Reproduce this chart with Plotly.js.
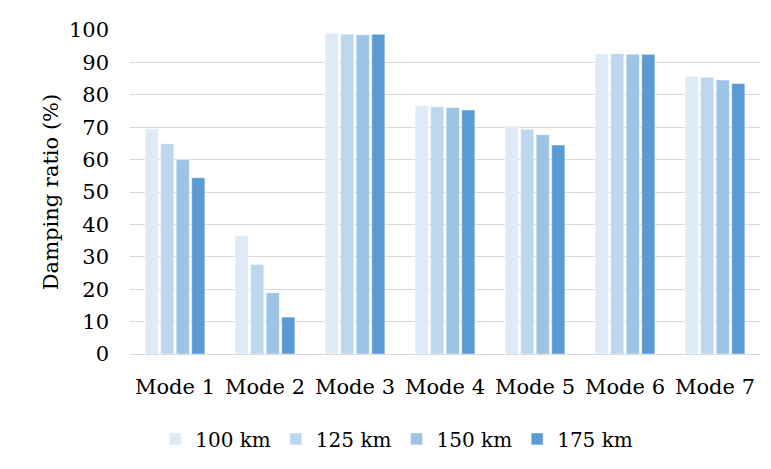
<!DOCTYPE html>
<html>
<head>
<meta charset="utf-8">
<script src="https://cdn.plot.ly/plotly-3.0.1.min.js"></script>
<style>html,body{margin:0;padding:0;background:#fff;}#chart{width:771px;height:469px;}</style>
</head>
<body>
<div id="chart"></div>
<script>
const categories = ["Mode 1", "Mode 2", "Mode 3", "Mode 4", "Mode 5", "Mode 6", "Mode 7"];
const seriesNames = ["100 km", "125 km", "150 km", "175 km"];
const v100 = [69.5, 36.5, 99.0, 76.7, 70.4, 92.7, 85.7];
const v125 = [64.9, 27.6, 98.7, 76.3, 69.4, 92.7, 85.4];
const v150 = [60.0, 18.9, 98.5, 76.1, 67.7, 92.5, 84.6];
const v175 = [54.4, 11.4, 98.7, 75.3, 64.5, 92.5, 83.5];
const colors = ["#DEEBF7", "#BDD7EE", "#9DC3E6", "#5B9BD5"];
const yTicks = [0, 10, 20, 30, 40, 50, 60, 70, 80, 90, 100];

const allValues = [v100, v125, v150, v175];
const FAM = "DejaVu Serif";
function f(size) { return {family: FAM, size: size, color: "#000000"}; }
const traces = allValues.map((vals, i) => ({
  type: "bar",
  name: seriesNames[i],
  x: categories,
  y: vals,
  marker: {color: colors[i], line: {color: "#ffffff", width: 0.5}},
  hoverinfo: "x+y+name"
}));

const layout = {
  width: 771, height: 469,
  margin: {l: 130, r: 11, t: 30, b: 110},
  paper_bgcolor: "#ffffff",
  plot_bgcolor: "#ffffff",
  barmode: "group",
  bargap: 0.31,
  bargroupgap: 0.15,
  font: f(21),
  xaxis: {
    type: "category",
    showgrid: false,
    showline: true,
    linecolor: "#d9d9d9",
    linewidth: 1,
    ticks: "",
    ticklabelstandoff: 14,
    tickfont: f(21),
    automargin: false
  },
  yaxis: {
    range: [0, 100],
    tickvals: yTicks,
    ticktext: yTicks.map(String),
    showgrid: true,
    gridcolor: "#d9d9d9",
    gridwidth: 1,
    zeroline: false,
    showline: false,
    ticks: "",
    ticklabelstandoff: 20,
    tickfont: f(21),
    title: {text: "Damping ratio (%)", font: f(21), standoff: 4},
    automargin: false
  },
  legend: {
    orientation: "h",
    x: 0.04, xanchor: "left",
    y: -0.262, yanchor: "middle",
    font: f(20),
    traceorder: "normal"
  },
  showlegend: true
};

Plotly.newPlot("chart", traces, layout, {displayModeBar: false, staticPlot: true});
</script>
</body>
</html>
